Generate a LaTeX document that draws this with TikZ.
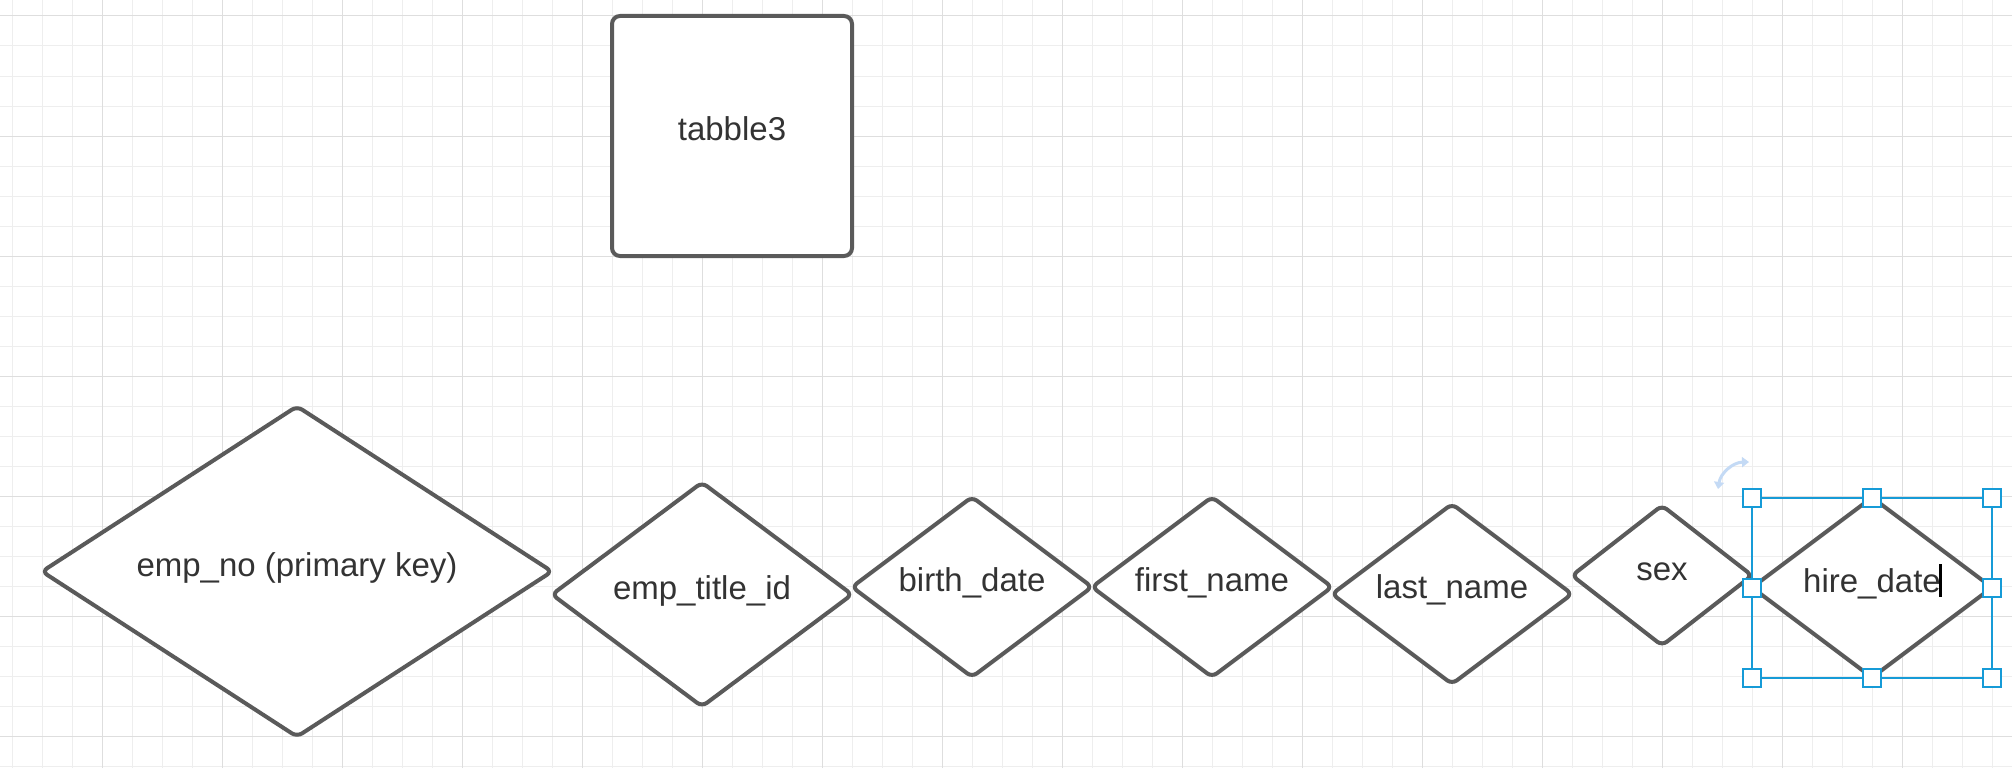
\documentclass[tikz,border=0pt]{standalone}
\usepackage{fontspec}
\setmainfont{Liberation Sans}
\usepackage{tikz}
\usetikzlibrary{arrows.meta, positioning, shapes.geometric}
\definecolor{shapeline}{RGB}{90,90,90}
\definecolor{labeltext}{RGB}{51,51,51}
\definecolor{gridminor}{RGB}{238,238,238}
\definecolor{gridmajor}{RGB}{222,222,222}
\definecolor{selblue}{RGB}{22,155,215}
\definecolor{rotblue}{RGB}{196,218,245}
\newcommand{\labelfont}{\fontsize{33}{40}\selectfont}

\begin{document}
\begin{tikzpicture}[
	x=1pt, y=-1pt,
	attr/.style={diamond, draw=shapeline, line width=4pt, fill=white,
		rounded corners=6pt, inner sep=0pt, outer sep=0pt, text=labeltext,
		font=\labelfont, text height=0.94em, text depth=0em},
	entity/.style={rectangle, draw=shapeline, line width=4pt, fill=white,
		rounded corners=8pt, inner sep=0pt, outer sep=0pt, text=labeltext,
		font=\labelfont, text height=0.94em, text depth=0em,
		minimum width=240pt, minimum height=240pt},
	gridline/.style={line width=1pt, draw=gridminor},
	gridbold/.style={line width=1pt, draw=gridmajor},
	selframe/.style={draw=selblue, line width=2pt},
	handle/.style={rectangle, draw=selblue, line width=2pt, fill=white,
		minimum size=18pt, inner sep=0pt}
	]
	\useasboundingbox (0,0) rectangle (2012,768);
	\fill[white] (0,0) rectangle (2012,768);
	
	% Background grid
	\foreach \x in {12,42,...,2002} \draw[gridline] (\x,0) -- (\x,768);
	\foreach \y in {16,46,...,766} \draw[gridline] (0,\y) -- (2012,\y);
	\foreach \x in {102,222,...,1962} \draw[gridbold] (\x,0) -- (\x,768);
	\foreach \y in {16,136,...,736} \draw[gridbold] (0,\y) -- (2012,\y);
	
	% Table
	\node[entity] (tab3) at (732,136) {tabble3};
	
	% Row of attributes
	\node[attr, minimum width=510pt, minimum height=330pt] (empno) at (297,571.5) {emp\_no (primary key)};
	\node[attr, minimum width=300pt, minimum height=224pt] (titleid) [right=0pt of empno, yshift=-23pt] {emp\_title\_id};
	\node[attr, minimum width=240pt, minimum height=180pt] (birth) [right=0pt of titleid, yshift=7.5pt] {birth\_date};
	\node[attr, minimum width=240pt, minimum height=180pt] (first) [right=0pt of birth] {first\_name};
	\node[attr, minimum width=240pt, minimum height=180pt] (last) [right=0pt of first, yshift=-7pt] {last\_name};
	\node[attr, minimum width=180pt, minimum height=140pt] (sex) [right=0pt of last, yshift=18.5pt] {sex};
	\node[attr, minimum width=240pt, minimum height=180pt] (hire) [right=0pt of sex, yshift=-12pt] {hire\_date};
	
	% Selection on hire_date
	\draw[selframe] (hire.west |- hire.north) rectangle (hire.east |- hire.south);
	\foreach \p [count=\i] in {hire.west |- hire.north, hire.north, hire.east |- hire.north,
		hire.west, hire.east,
		hire.west |- hire.south, hire.south, hire.east |- hire.south}
		\node[handle] (h\i) at (\p) {};
	\draw[rotblue, line width=3pt, {Triangle[length=7pt, width=10pt]}-{Triangle[length=7pt, width=10pt]}]
		(1718,489) to[bend left=40] (1749,462);
	\draw[black, line width=3pt] (1940,564) -- (1940,597);
	
\end{tikzpicture}
\end{document}
